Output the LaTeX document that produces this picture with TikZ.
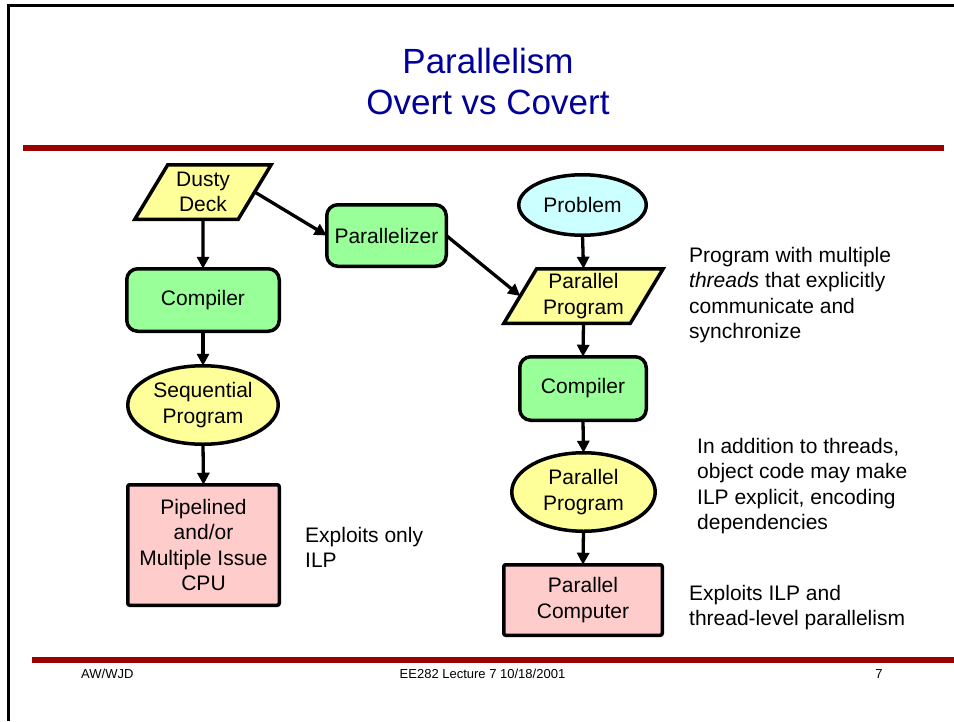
\documentclass[tikz,border=0pt]{standalone}
\usepackage{fontspec}
\setmainfont{Liberation Sans}
\usetikzlibrary{shapes.geometric,arrows.meta}
\definecolor{titleblue}{HTML}{000099}
\definecolor{barred}{HTML}{990000}
\definecolor{boxyellow}{HTML}{FFFF99}
\definecolor{boxgreen}{HTML}{99FF99}
\definecolor{boxpink}{HTML}{FFCCCC}
\definecolor{boxcyan}{HTML}{CCFFFF}
\tikzset{
 body/.style={font=\fontsize{21}{25.5}\selectfont, align=center, inner sep=0pt, outer sep=0pt},
 shapeline/.style={draw=black, line width=3.5pt},
 greenbox/.style={body, shapeline, fill=boxgreen, rectangle, rounded corners=11pt},
 pinkbox/.style={body, shapeline, fill=boxpink, rectangle, rounded corners=2pt},
 datapar/.style={body, shapeline, fill=boxyellow, trapezium, trapezium stretches=true, trapezium left angle=58, trapezium right angle=122},
 yellowoval/.style={body, shapeline, fill=boxyellow, ellipse},
 cyanoval/.style={body, shapeline, fill=boxcyan, ellipse},
 flow/.style={line width=3.3pt, -{Triangle[length=12pt,width=12pt]}},
 note/.style={font=\fontsize{21}{25.5}\selectfont, align=left, inner sep=0pt, anchor=north west},
 footer/.style={font=\fontsize{13}{15}\selectfont, inner sep=0pt, anchor=base},
 titletext/.style={font=\fontsize{35}{41}\selectfont, text=titleblue, inner sep=0pt, anchor=base}
}
\begin{document}
\begin{tikzpicture}[x=1pt,y=-1pt]
\useasboundingbox (0,0) rectangle (954,721);
% slide frame and bars
\draw[line width=3pt] (954,5.5) -- (8,5.5) -- (8,721);
\fill[barred] (23,145) rectangle (944,151);
\fill[barred] (32,657) rectangle (954,663);
% title
\node[titletext] (t1) at (488,73) {Parallelism};
\node[titletext] (t2) at (488,114) {Overt vs Covert};
% left column
\node[datapar, minimum width=136.5pt, minimum height=54.5pt] (dusty) at (203,192) {Dusty\\Deck};
\node[greenbox, minimum width=152.5pt, minimum height=62.5pt] (comp1) at (203,300) {Compiler};
\node[yellowoval, minimum width=150.5pt, minimum height=78.5pt] (seq) at (203,405) {Sequential\\Program};
\node[pinkbox, minimum width=151.5pt, minimum height=120.5pt] (cpu) at (203.5,545) {Pipelined\\and/or\\Multiple Issue\\CPU};
% middle
\node[greenbox, minimum width=119.5pt, minimum height=61.5pt] (parz) at (386.5,235.5) {Parallelizer};
% right column
\node[cyanoval, minimum width=127.5pt, minimum height=60.5pt] (prob) at (582.5,205) {Problem};
\node[datapar, minimum width=159.5pt, minimum height=54.5pt] (pprog) at (583.5,296) {Parallel\\Program};
\node[greenbox, minimum width=126.5pt, minimum height=63.5pt] (comp2) at (583,388.5) {Compiler};
\node[yellowoval, minimum width=143.5pt, minimum height=78.5pt] (pobj) at (583.5,492) {Parallel\\Program};
\node[pinkbox, minimum width=158.5pt, minimum height=70.5pt] (pcomp) at (583,600) {Parallel\\Computer};
% connectors
\draw[flow] (dusty.south) -- (comp1.north);
\draw[flow] (comp1.south) -- (seq.north);
\draw[flow] (seq.south) -- (cpu.north);
\draw[flow] (dusty.east) -- (parz.west);
\draw[flow] (parz.east) -- (pprog.west);
\draw[flow] (prob.south) -- (pprog.north);
\draw[flow] (pprog.south) -- (comp2.north);
\draw[flow] (comp2.south) -- (pobj.north);
\draw[flow] (pobj.south) -- (pcomp.north);
% notes
\node[note] (n1) at (305,526.7) {Exploits only\\ILP};
\node[note] (n2) at (689,246.7) {Program with multiple\\\textit{threads} that explicitly\\communicate and\\synchronize};
\node[note] (n3) at (697,437.7) {In addition to threads,\\object code may make\\ILP explicit, encoding\\dependencies};
\node[note] (n4) at (689,584.7) {Exploits ILP and\\thread-level parallelism};
% footer
\node[footer, anchor=base west] (f1) at (81,678) {AW/WJD};
\node[footer] (f2) at (482.5,678) {EE282 Lecture 7 10/18/2001};
\node[footer] (f3) at (879,678) {7};
\end{tikzpicture}
\end{document}
